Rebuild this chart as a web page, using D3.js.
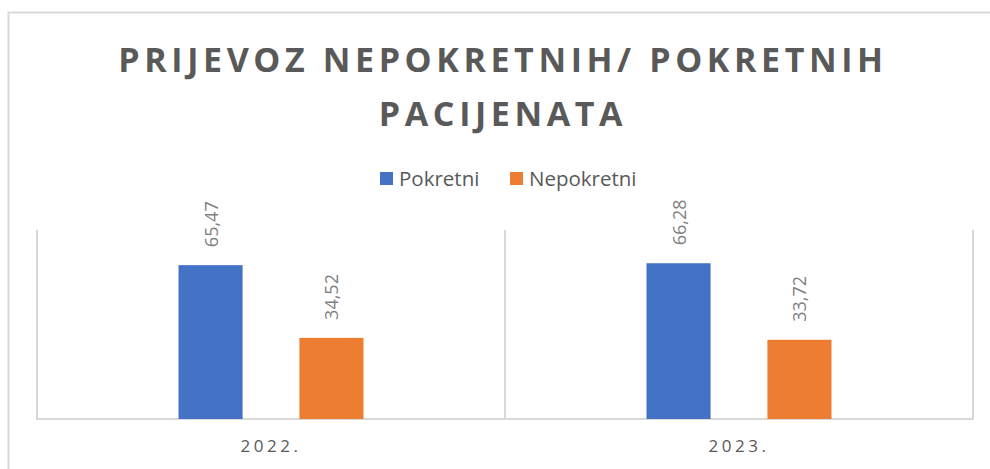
<!DOCTYPE html>
<html>
<head>
<meta charset="utf-8">
<script src="https://cdn.jsdelivr.net/npm/d3@7"></script>
<style>
  html, body { margin: 0; padding: 0; background: #fff; }
  svg { display: block; font-family: "Open Sans", "Noto Sans", sans-serif; }
</style>
</head>
<body>
<svg id="chart" width="990" height="469"></svg>
<script>
// chart data
const years = ["2022.", "2023."];
const seriesNames = ["Pokretni", "Nepokretni"];
const pokretni = [65.47, 66.28];
const nepokretni = [34.52, 33.72];
const colors = ["#4472c4", "#ed7d31"];
const titleLines = ["PRIJEVOZ NEPOKRETNIH/ POKRETNIH", "PACIJENATA"];

const svg = d3.select("#chart");
const width = 990, height = 469;
const plot = { left: 37, right: 973, top: 230, bottom: 419 };
const grey = "#595959", lineCol = "#d9d9d9";

// outer chart frame (runs off the right/bottom of the picture)
svg.append("rect")
  .attr("x", 8.5).attr("y", 12.5)
  .attr("width", 1000).attr("height", 500)
  .attr("fill", "#fff")
  .attr("stroke", lineCol).attr("stroke-width", 2);

// title
svg.append("g").selectAll("text")
  .data(titleLines)
  .join("text")
  .attr("x", 503)
  .attr("y", (d, i) => 72 + i * 54)
  .attr("text-anchor", "middle")
  .attr("font-size", 34)
  .attr("font-weight", "bold")
  .attr("letter-spacing", 4.6)
  .attr("fill", grey)
  .text(d => d);

// legend
const legendX = [380, 510];
const legend = svg.append("g").selectAll("g")
  .data(seriesNames)
  .join("g")
  .attr("transform", (d, i) => `translate(${legendX[i]},172)`);
legend.append("rect")
  .attr("width", 13).attr("height", 13)
  .attr("fill", (d, i) => colors[i]);
legend.append("text")
  .attr("x", 19).attr("y", 14)
  .attr("font-size", 20.5)
  .attr("fill", grey)
  .text(d => d);

// scales
const x0 = d3.scaleBand().domain(years).range([plot.left, plot.right]);
const x1 = d3.scaleBand().domain(seriesNames)
  .range([x0.bandwidth() / 2 - 92.5, x0.bandwidth() / 2 + 92.5])
  .paddingInner(0.47);
const y = d3.scaleLinear().domain([0, 80]).range([plot.bottom, plot.bottom - 188]);

// plot frame: vertical category gridlines + baseline
const grid = svg.append("g").attr("stroke", lineCol).attr("stroke-width", 2);
const edges = [plot.left, ...years.slice(1).map(c => x0(c)), plot.right];
grid.selectAll("line")
  .data(edges)
  .join("line")
  .attr("x1", d => d).attr("x2", d => d)
  .attr("y1", plot.top).attr("y2", plot.bottom);
grid.append("line")
  .attr("x1", plot.left - 1).attr("x2", plot.right + 1)
  .attr("y1", plot.bottom).attr("y2", plot.bottom);

// bars
const rows = years.map((yr, i) => ({
  year: yr,
  vals: [
    { name: seriesNames[0], v: pokretni[i], c: colors[0] },
    { name: seriesNames[1], v: nepokretni[i], c: colors[1] }
  ]
}));

const groups = svg.append("g").selectAll("g")
  .data(rows)
  .join("g")
  .attr("transform", d => `translate(${x0(d.year)},0)`);

groups.selectAll("rect")
  .data(d => d.vals)
  .join("rect")
  .attr("x", d => x1(d.name))
  .attr("y", d => y(d.v))
  .attr("width", x1.bandwidth())
  .attr("height", d => plot.bottom - y(d.v))
  .attr("fill", d => d.c);

// rotated value labels
groups.selectAll("text")
  .data(d => d.vals)
  .join("text")
  .attr("transform", d => `translate(${x1(d.name) + x1.bandwidth() / 2 + 7},${y(d.v) - 18}) rotate(-90)`)
  .attr("font-size", 18)
  .attr("fill", "#7f7f7f")
  .text(d => d.v.toFixed(2).replace(".", ","));

// category labels
svg.append("g").selectAll("text")
  .data(years)
  .join("text")
  .attr("x", d => x0(d) + x0.bandwidth() / 2)
  .attr("y", 452)
  .attr("text-anchor", "middle")
  .attr("font-size", 17)
  .attr("letter-spacing", 3.5)
  .attr("fill", grey)
  .text(d => d);
</script>
</body>
</html>
